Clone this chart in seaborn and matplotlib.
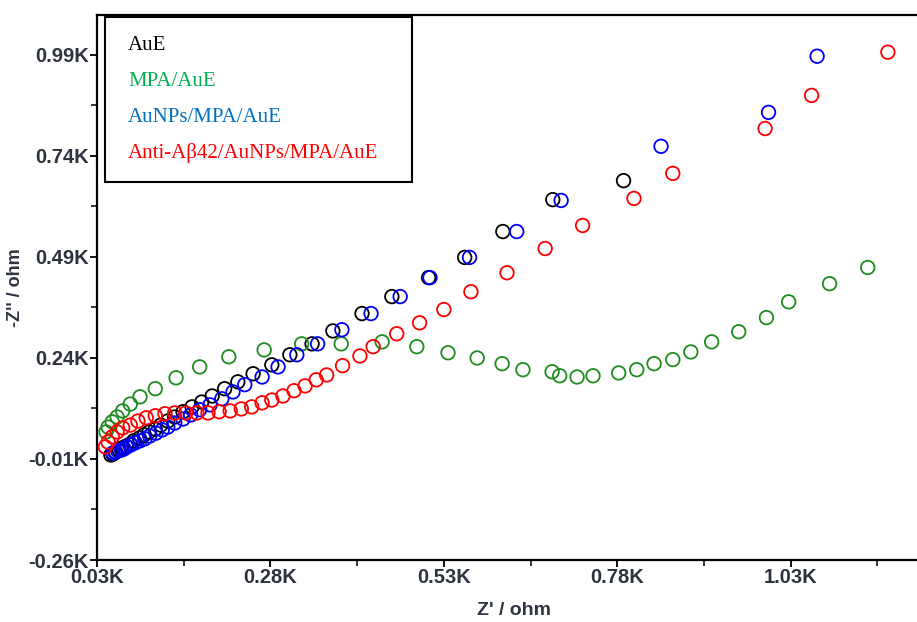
import matplotlib
matplotlib.use("Agg")
import matplotlib.pyplot as plt
import seaborn as sns
import pandas as pd
from matplotlib.ticker import FuncFormatter, FixedLocator
from matplotlib.lines import Line2D

# ---------------- data (ohm) ----------------
aue_x = [789, 687, 615, 560, 508, 455, 412, 370, 340, 308, 282, 255, 233, 214, 196, 181,
         167, 154, 142, 132, 122, 114, 105, 98, 91, 83, 78, 72, 66, 62, 57, 53, 50]
aue_y = [679, 632, 553, 489, 439, 392, 350, 307, 275, 248, 223, 201, 181, 164, 146, 131,
         119, 107, 94, 84, 74, 64, 57, 50, 42, 35, 27, 22, 17, 12, 7, 2, 0]

mpa_x = [43, 46, 52, 59, 67, 78, 92, 114, 144, 178, 220, 271, 325, 382, 441, 491, 536,
         578, 614, 644, 686, 697, 722, 745, 782, 808, 833, 860, 886, 916, 955, 995, 1027,
         1086, 1141]
mpa_y = [57, 69, 82, 94, 109, 126, 144, 164, 191, 218, 243, 260, 275, 275, 280, 268, 253,
         240, 226, 211, 206, 196, 193, 196, 203, 211, 226, 236, 255, 280, 305, 340, 379,
         424, 464]

aunp_x = [1068, 998, 843, 699, 635, 567, 510, 467, 425, 383, 348, 318, 291, 268, 243, 226,
          210, 193, 178, 165, 154, 142, 132, 124, 115, 106, 99, 92, 85, 79, 73, 69, 65,
          60, 56, 53]
aunp_y = [987, 848, 764, 630, 553, 489, 439, 392, 350, 310, 275, 248, 218, 193, 174, 156,
          139, 124, 112, 99, 89, 79, 69, 62, 54, 47, 40, 35, 30, 25, 20, 15, 12, 10, 7, 5]

anti_x = [1170, 1060, 993, 860, 804, 730, 676, 621, 569, 530, 495, 462, 428, 409, 384, 361,
          346, 330, 314, 298, 282, 268, 253, 238, 222, 206, 190, 174, 158, 142, 128, 114,
          101, 89, 78, 67, 59, 52, 46, 42]
anti_y = [997, 890, 808, 697, 635, 568, 511, 451, 404, 360, 327, 300, 268, 245, 221, 198,
          186, 171, 159, 146, 136, 129, 119, 114, 109, 107, 104, 104, 104, 104, 102, 97,
          92, 84, 74, 67, 57, 45, 32, 20]

series_names = ["AuE", "MPA/AuE", "AuNPs/MPA/AuE", "Anti-A\u03b242/AuNPs/MPA/AuE"]
marker_colors = ["#000000", "#1e8c1e", "#0000ff", "#ff0000"]
label_colors = ["#000000", "#00b050", "#0070c0", "#ff0000"]
x_ticks = [30, 280, 530, 780, 1030]
x_minor = [155, 405, 655, 905, 1155]
y_ticks = [-260, -10, 240, 490, 740, 990]
y_minor = [-135, 115, 365, 615, 865]

# ---------------- build frame ----------------
frames = []
for name, xs, ys in zip(series_names, [aue_x, mpa_x, aunp_x, anti_x],
                        [aue_y, mpa_y, aunp_y, anti_y]):
    frames.append(pd.DataFrame({"Zre": xs, "Zim": ys, "sample": name}))
df = pd.concat(frames, ignore_index=True)

sns.set_style("ticks")
plt.rcParams["font.family"] = ["Liberation Sans", "DejaVu Sans"]

fig = plt.figure(figsize=(9.17, 6.22), dpi=100)
ax = fig.add_axes([97 / 917, 62 / 622, 820 / 917, 545 / 622])

draw_order = [1, 0, 2, 3]
for i in draw_order:
    sub = df[df["sample"] == series_names[i]]
    sns.scatterplot(data=sub, x="Zre", y="Zim", ax=ax, marker="o", s=95,
                    facecolor="none", edgecolor=marker_colors[i], linewidth=1.3,
                    legend=False, zorder=3 + i)

ax.set_xlim(30, 1212)
ax.set_ylim(-260, 1089)

ax.xaxis.set_major_locator(FixedLocator(x_ticks))
ax.xaxis.set_minor_locator(FixedLocator(x_minor))
ax.yaxis.set_major_locator(FixedLocator(y_ticks))
ax.yaxis.set_minor_locator(FixedLocator(y_minor))
fmt = FuncFormatter(lambda v, p: f"{v / 1000:.2f}K")
ax.xaxis.set_major_formatter(fmt)
ax.yaxis.set_major_formatter(fmt)

ax.tick_params(axis="both", which="major", direction="out", length=5, width=1.3,
               color="black", pad=1)
ax.tick_params(axis="both", which="minor", direction="out", length=4, width=1.1,
               color="black")
for lab in ax.get_yticklabels() + ax.get_xticklabels():
    lab.set_fontweight("bold")
    lab.set_fontsize(14.5)
    lab.set_color("#2e3340")

for side in ["left", "bottom", "top"]:
    ax.spines[side].set_visible(True)
    ax.spines[side].set_color("black")
    ax.spines[side].set_linewidth(1.6)
ax.spines["right"].set_visible(False)

ax.set_xlabel("Z' / ohm", fontsize=14, fontweight="bold", color="#2e3340")
ax.set_ylabel("-Z'' / ohm", fontsize=13, fontweight="bold", color="#2e3340")
ax.xaxis.set_label_coords(0.5085, -0.077)
ax.yaxis.set_label_coords(-0.089, 0.50)

handles = [Line2D([], [], linestyle="none", marker=None) for _ in series_names]
leg = ax.legend(handles, series_names, loc="upper left",
                bbox_to_anchor=(8 / 820, 0.5, 307 / 820, 0.4963), mode="expand",
                borderaxespad=0, handlelength=0, handletextpad=0.2, borderpad=0.9,
                labelspacing=0.78, frameon=True, fancybox=False, framealpha=1,
                edgecolor="black", labelcolor=label_colors,
                prop={"family": "Liberation Serif", "size": 15})
leg.get_frame().set_linewidth(1.5)
leg.set_zorder(10)

fig.savefig("out.png", dpi=100)
